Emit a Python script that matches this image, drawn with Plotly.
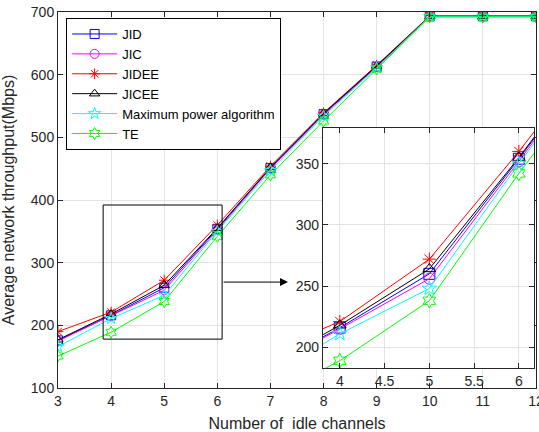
import plotly.graph_objects as go

# idle channels and throughput (Mbps)
channels = [3, 4, 5, 6, 7, 8, 9, 10, 11, 12]
jid = [176, 216, 260, 354, 451, 537, 613, 693, 693, 693]
jic = [175, 215, 256, 352, 450, 536, 612, 693, 693, 693]
jidee = [190, 221, 272, 360, 454, 539, 615, 694, 694, 694]
jicee = [177, 218, 264, 355, 452, 538, 614, 693, 693, 693]
max_power = [166, 211, 248, 350, 447, 534, 611, 693, 693, 693]
te = [151, 189, 238, 342, 440, 526, 609, 692, 692, 692]

main_xticks = [3, 4, 5, 6, 7, 8, 9, 10, 11, 12]
main_yticks = [100, 200, 300, 400, 500, 600, 700]
inset_xticks = [4, 4.5, 5, 5.5, 6]
inset_yticks = [200, 250, 300, 350]

series = [
    ("JID", jid, "#0000ff", "square-open"),
    ("JIC", jic, "#ff00ff", "circle-open"),
    ("JIDEE", jidee, "#ff0000", "asterisk-open"),
    ("JICEE", jicee, "#000000", "triangle-up-open"),
    ("Maximum power algorithm", max_power, "#00ffff", "star-open"),
    ("TE", te, "#00ff00", "hexagram-open"),
]

fig = go.Figure()

for name, vals, color, sym in series:
    fig.add_trace(go.Scatter(
        x=channels, y=vals, mode="lines+markers", name=name,
        line=dict(color=color, width=1),
        marker=dict(symbol=sym, size=9, color=color, line=dict(color=color, width=1)),
        xaxis="x", yaxis="y",
    ))

for name, vals, color, sym in series:
    fig.add_trace(go.Scatter(
        x=channels, y=vals, mode="lines+markers", name=name, showlegend=False,
        line=dict(color=color, width=1),
        marker=dict(symbol=sym, size=11, color=color, line=dict(color=color, width=1)),
        xaxis="x2", yaxis="y2",
    ))

axis_common = dict(
    showline=True, linecolor="#262626", linewidth=1, mirror="ticks",
    ticks="inside", ticklen=5, tickcolor="#262626",
    showgrid=True, gridcolor="#e3e3e3", gridwidth=1, zeroline=False,
    tickfont=dict(size=14, color="#262626"), automargin=False,
    ticklabeloverflow="allow",
)

# zoom box and arrow pointing to the inset
fig.add_shape(type="rect", xref="x", yref="y", x0=3.85, x1=6.09, y0=178, y1=392,
              line=dict(color="#000000", width=1))
fig.add_annotation(xref="x", yref="y", axref="x", ayref="y",
                   x=7.33, y=269, ax=6.09, ay=269, text="", showarrow=True,
                   arrowhead=2, arrowsize=1.6, arrowwidth=1, arrowcolor="#000000")

fig.update_layout(
    width=539, height=432,
    margin=dict(l=58, r=3, t=12, b=44),
    paper_bgcolor="white", plot_bgcolor="white",
    font=dict(family="Liberation Sans, Arial, sans-serif", color="#262626"),
    xaxis=dict(axis_common, range=[3, 12], tickvals=main_xticks,
               title=dict(text="Number of\u00a0\u00a0idle channels", font=dict(size=16))),
    yaxis=dict(axis_common, range=[100, 700], tickvals=main_yticks,
               title=dict(text="Average network throughput(Mbps)", font=dict(size=16))),
    xaxis2=dict(axis_common, domain=[0.554, 0.996], anchor="y2", range=[3.81, 6.17],
                tickvals=inset_xticks, ticktext=["4", "4.5", "5", "5.5", "6"]),
    yaxis2=dict(axis_common, domain=[0.053, 0.691], anchor="x2", range=[183, 379],
                tickvals=inset_yticks),
    legend=dict(x=0.017, y=0.984, xanchor="left", yanchor="top",
                bgcolor="white", bordercolor="#000000", borderwidth=1,
                font=dict(size=13, color="#000000"), tracegroupgap=0,
                itemwidth=45),
)

# the page's default body margin would push the figure out of the window
fig.write_html("out.html", config={"displayModeBar": False},
               post_script="document.body.style.margin='0';")
